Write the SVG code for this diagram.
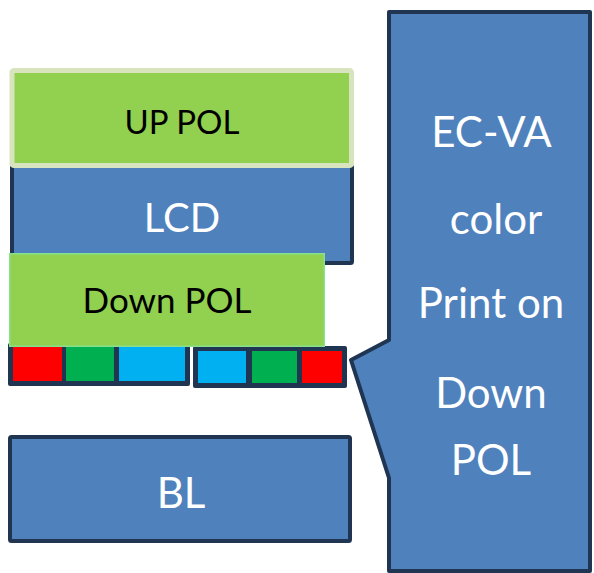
<svg xmlns="http://www.w3.org/2000/svg" width="594" height="573" viewBox="0 0 594 573">
<style>
.blue{fill:#4F81BD;stroke:#1F3552;stroke-width:4;stroke-linejoin:round}
.pol{fill:#92D050}
.t{font-family:Lato,"Open Sans","Liberation Sans",sans-serif;text-anchor:middle}
.w{fill:#FFFFFF}
.k{fill:#000000}
.dark{fill:#1F3552}
.r{fill:#FF0000}.g{fill:#00B050}.c{fill:#00B0F0}
</style>
<rect width="594" height="573" fill="#FFFFFF"/>
<g id="lcd">
<rect class="blue" x="12" y="166" width="340" height="97" rx="1.5"/>
<text class="t w" x="182" y="232" font-size="40">LCD</text>
</g>
<g id="up-pol">
<rect class="pol" x="12" y="70.5" width="339.5" height="95" rx="2" stroke="#D7E4BD" stroke-width="5"/>
<text class="t k" x="182" y="134" font-size="33">UP POL</text>
</g>
<g id="color-left">
<rect class="dark" x="8" y="343" width="182" height="43" rx="2"/>
<rect class="r" x="13" y="347" width="49" height="34"/>
<rect class="g" x="66" y="347" width="48" height="34"/>
<rect class="c" x="119" y="347" width="66" height="34"/>
</g>
<g id="color-right">
<rect class="dark" x="193" y="346" width="154" height="42" rx="2"/>
<rect class="c" x="198" y="351" width="48" height="32"/>
<rect class="g" x="252" y="351" width="45" height="32"/>
<rect class="r" x="302" y="351" width="40" height="32"/>
</g>
<g id="down-pol">
<rect class="pol" x="9.75" y="253.75" width="314.5" height="92.5" stroke="#86E08C" stroke-width="1.5"/>
<text class="t k" x="167" y="313" font-size="35">Down POL</text>
</g>
<g id="bl">
<rect class="blue" x="10" y="437" width="340" height="104" rx="1.5"/>
<text class="t w" x="181" y="508" font-size="42">BL</text>
</g>
<g id="callout">
<polygon class="blue" points="389,12 590,12 590,571 389,571 389,478 351,360 389,340"/>
<text class="t w" x="491.5" y="147" font-size="42">EC-VA</text>
<text class="t w" x="496" y="234" font-size="42">color</text>
<text class="t w" x="491" y="318" font-size="42">Print on</text>
<text class="t w" x="491" y="408" font-size="42">Down</text>
<text class="t w" x="491" y="475" font-size="42">POL</text>
</g>
</svg>
